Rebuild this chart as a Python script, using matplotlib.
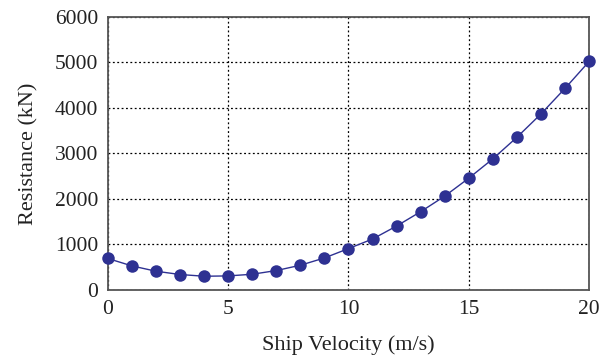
import matplotlib
matplotlib.use("Agg")
import matplotlib.pyplot as plt

# ship velocity (m/s) and resistance (kN)
velocity = list(range(0, 21))
resistance = [690, 527, 410, 338, 300, 307, 344, 425, 542, 702, 908,
              1118, 1404, 1719, 2061, 2456, 2881, 3355, 3868, 4430, 5022]

plt.rcParams["font.family"] = ["Liberation Serif", "DejaVu Serif"]

fig = plt.figure(figsize=(6.13, 3.61), dpi=100)
ax = fig.add_axes([0.176, 0.197, 0.785, 0.756])

ax.plot(velocity, resistance, color="#2e3192", lw=1.0, marker="o",
        markersize=9, markeredgewidth=0, zorder=3, clip_on=False)

ax.set_xlim(0, 20)
ax.set_ylim(0, 6000)
ax.set_xticks([0, 5, 10, 15, 20])
ax.set_yticks(range(0, 6001, 1000))
ax.grid(True, color="black", linestyle=(0, (1.5, 2)), linewidth=0.9)
ax.tick_params(length=0, labelsize=15.5, pad=7, colors="#222222")
for s in ax.spines.values():
    s.set_color("#555555")
    s.set_linewidth(1.3)

ax.set_xlabel("Ship Velocity (m/s)", fontsize=16, labelpad=12, color="#222222")
ax.set_ylabel("Resistance (kN)", fontsize=16, labelpad=12, color="#222222")

fig.savefig("out.png", dpi=100)
